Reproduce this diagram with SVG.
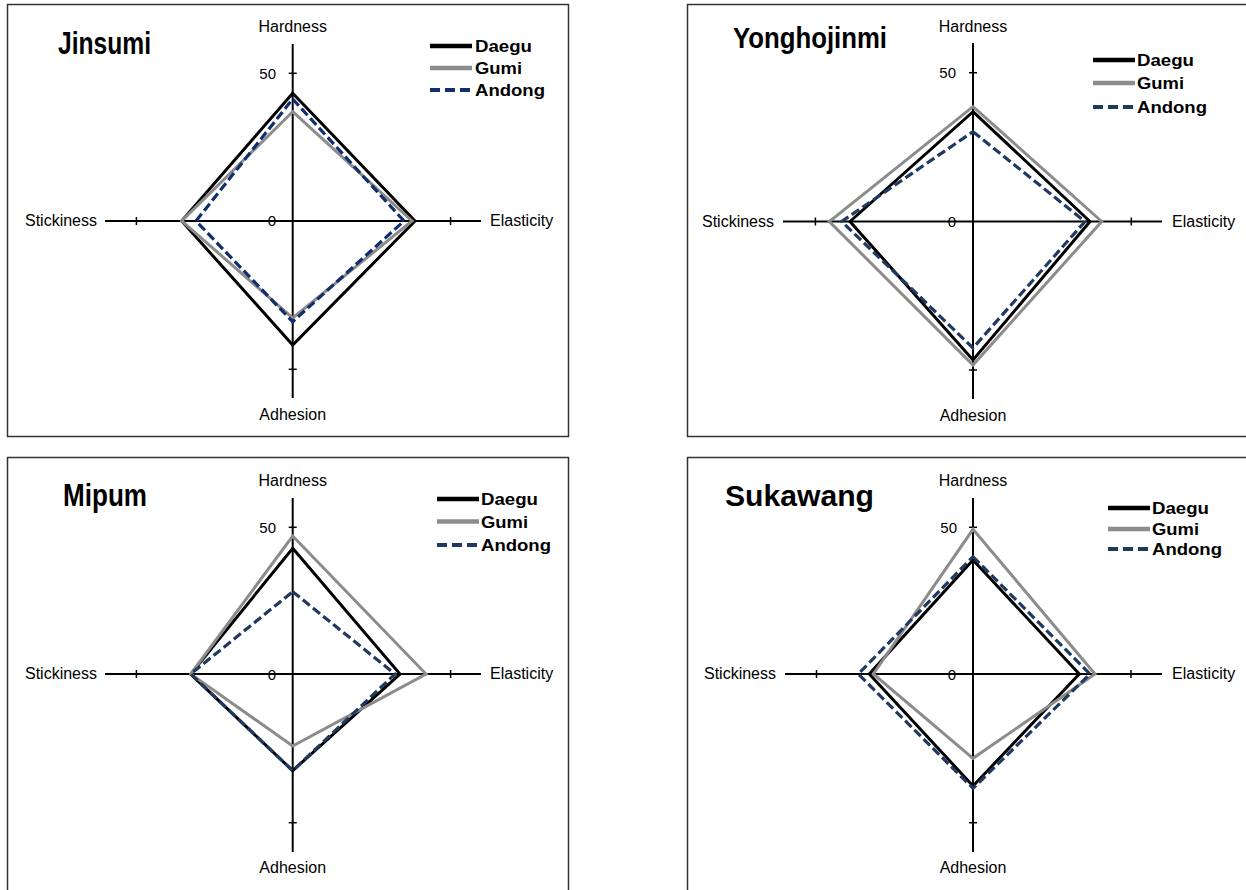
<svg xmlns="http://www.w3.org/2000/svg" width="1246" height="890" viewBox="0 0 1246 890">
<style>
.frame{fill:#fff;stroke:#333;stroke-width:1.5}
.axis{stroke:#000;stroke-width:2;fill:none}
.tick{stroke:#000;stroke-width:1.5}
.lbl{font-family:"Liberation Sans",Arial,sans-serif;font-size:16px;fill:#000}
.num{font-family:"Liberation Sans",Arial,sans-serif;font-size:15px;fill:#000}
.title{font-family:"Liberation Sans",Arial,sans-serif;font-weight:bold;fill:#000}
.leg{font-family:"Liberation Sans",Arial,sans-serif;font-size:17px;font-weight:bold;fill:#000}
.daegu{fill:none;stroke:#000;stroke-width:3;stroke-linejoin:miter}
.gumi{fill:none;stroke:#8c8c8c;stroke-width:3;stroke-linejoin:miter}
.andong{fill:none;stroke:#1f3a60;stroke-width:3.2;stroke-dasharray:9,4}
.andong1{stroke:#102f6c}
.legline{stroke-width:4.5}
.legdash{stroke-width:4;stroke-dasharray:10,5}
</style>
<rect width="1246" height="890" fill="#fff"/>

<g id="panel-jinsumi">
<rect class="frame" x="7.5" y="4.5" width="561" height="432"/>
<text class="title" x="58" y="54" font-size="31" textLength="93" lengthAdjust="spacingAndGlyphs">Jinsumi</text>
<line class="axis" x1="292.7" y1="44" x2="292.7" y2="398"/>
<line class="axis" x1="105" y1="221" x2="481" y2="221"/>
<line class="tick" x1="288.7" y1="73.3" x2="296.7" y2="73.3"/>
<line class="tick" x1="288.7" y1="369.3" x2="296.7" y2="369.3"/>
<line class="tick" x1="136.4" y1="217" x2="136.4" y2="225"/>
<line class="tick" x1="450.6" y1="217" x2="450.6" y2="225"/>
<text class="lbl" x="292.7" y="32" text-anchor="middle">Hardness</text>
<text class="lbl" x="292.7" y="420" text-anchor="middle">Adhesion</text>
<text class="lbl" x="97" y="226" text-anchor="end">Stickiness</text>
<text class="lbl" x="490" y="226">Elasticity</text>
<text class="num" x="276" y="79" text-anchor="end">50</text>
<text class="num" x="272" y="226" text-anchor="middle">0</text>
<polygon class="daegu" points="292.7,93.3 415,221 292.7,345 181.7,221"/>
<polygon class="gumi" points="292.7,111.7 412,221 292.7,318 181.7,221"/>
<polygon class="andong andong1" points="292.7,99 404,221 292.7,321.7 196,221"/>
<line class="daegu legline" x1="430" y1="46" x2="472" y2="46"/>
<line class="gumi legline" x1="430" y1="68" x2="472" y2="68"/>
<line class="andong andong1 legdash" x1="430" y1="90" x2="472" y2="90"/>
<text class="leg" x="475" y="52" textLength="57" lengthAdjust="spacingAndGlyphs">Daegu</text>
<text class="leg" x="475" y="74" textLength="47" lengthAdjust="spacingAndGlyphs">Gumi</text>
<text class="leg" x="475" y="96" textLength="70" lengthAdjust="spacingAndGlyphs">Andong</text>
</g>

<g id="panel-yonghojinmi">
<rect class="frame" x="687.5" y="4.5" width="570" height="432"/>
<text class="title" x="733" y="47.5" font-size="30" textLength="154" lengthAdjust="spacingAndGlyphs">Yonghojinmi</text>
<line class="axis" x1="973" y1="43" x2="973" y2="399"/>
<line class="axis" x1="783" y1="221.5" x2="1162" y2="221.5"/>
<line class="tick" x1="969" y1="72.7" x2="977" y2="72.7"/>
<line class="tick" x1="969" y1="370" x2="977" y2="370"/>
<line class="tick" x1="815.4" y1="217.5" x2="815.4" y2="225.5"/>
<line class="tick" x1="1131.3" y1="217.5" x2="1131.3" y2="225.5"/>
<text class="lbl" x="973" y="32" text-anchor="middle">Hardness</text>
<text class="lbl" x="973" y="421" text-anchor="middle">Adhesion</text>
<text class="lbl" x="774" y="227" text-anchor="end">Stickiness</text>
<text class="lbl" x="1172" y="227">Elasticity</text>
<text class="num" x="956" y="78" text-anchor="end">50</text>
<text class="num" x="952" y="227" text-anchor="middle">0</text>
<polygon class="daegu" points="973,111.7 1090,221.5 973,360 850,221.5"/>
<polygon class="gumi" points="973,106.7 1101.7,221.5 973,365 829.3,221.5"/>
<polygon class="andong" points="973,131.7 1085,221.5 973,348 841.7,221.5"/>
<line class="daegu legline" x1="1093" y1="60" x2="1135" y2="60"/>
<line class="gumi legline" x1="1093" y1="83" x2="1135" y2="83"/>
<line class="andong legdash" x1="1093" y1="107" x2="1135" y2="107"/>
<text class="leg" x="1137" y="66" textLength="57" lengthAdjust="spacingAndGlyphs">Daegu</text>
<text class="leg" x="1137" y="89" textLength="47" lengthAdjust="spacingAndGlyphs">Gumi</text>
<text class="leg" x="1137" y="113" textLength="70" lengthAdjust="spacingAndGlyphs">Andong</text>
</g>

<g id="panel-mipum">
<rect class="frame" x="7.5" y="457.5" width="561" height="440"/>
<text class="title" x="63" y="506" font-size="31" textLength="84" lengthAdjust="spacingAndGlyphs">Mipum</text>
<line class="axis" x1="292.7" y1="498" x2="292.7" y2="852"/>
<line class="axis" x1="105" y1="674" x2="481" y2="674"/>
<line class="tick" x1="288.7" y1="527.3" x2="296.7" y2="527.3"/>
<line class="tick" x1="288.7" y1="822.7" x2="296.7" y2="822.7"/>
<line class="tick" x1="136.4" y1="670" x2="136.4" y2="678"/>
<line class="tick" x1="450.6" y1="670" x2="450.6" y2="678"/>
<text class="lbl" x="292.7" y="486" text-anchor="middle">Hardness</text>
<text class="lbl" x="292.7" y="873" text-anchor="middle">Adhesion</text>
<text class="lbl" x="97" y="679" text-anchor="end">Stickiness</text>
<text class="lbl" x="490" y="679">Elasticity</text>
<text class="num" x="276" y="533" text-anchor="end">50</text>
<text class="num" x="272" y="680" text-anchor="middle">0</text>
<polygon class="daegu" points="292.7,548.3 400,674 292.7,770.7 190.7,674"/>
<polygon class="gumi" points="292.7,536 426,674 292.7,746 190.7,674"/>
<polygon class="andong" points="292.7,591.7 395,674 292.7,770.7 190.7,674"/>
<line class="daegu legline" x1="437" y1="499" x2="479" y2="499"/>
<line class="gumi legline" x1="437" y1="521.5" x2="479" y2="521.5"/>
<line class="andong legdash" x1="437" y1="545" x2="479" y2="545"/>
<text class="leg" x="481" y="505" textLength="57" lengthAdjust="spacingAndGlyphs">Daegu</text>
<text class="leg" x="481" y="527.5" textLength="47" lengthAdjust="spacingAndGlyphs">Gumi</text>
<text class="leg" x="481" y="551" textLength="70" lengthAdjust="spacingAndGlyphs">Andong</text>
</g>

<g id="panel-sukawang">
<rect class="frame" x="687.5" y="457.5" width="570" height="440"/>
<text class="title" x="725" y="506" font-size="29" textLength="149" lengthAdjust="spacingAndGlyphs">Sukawang</text>
<line class="axis" x1="973" y1="498" x2="973" y2="852"/>
<line class="axis" x1="785" y1="674" x2="1162" y2="674"/>
<line class="tick" x1="969" y1="527.3" x2="977" y2="527.3"/>
<line class="tick" x1="969" y1="822.7" x2="977" y2="822.7"/>
<line class="tick" x1="816.5" y1="670" x2="816.5" y2="678"/>
<line class="tick" x1="1131" y1="670" x2="1131" y2="678"/>
<text class="lbl" x="973" y="486" text-anchor="middle">Hardness</text>
<text class="lbl" x="973" y="873" text-anchor="middle">Adhesion</text>
<text class="lbl" x="776" y="679" text-anchor="end">Stickiness</text>
<text class="lbl" x="1172" y="679">Elasticity</text>
<text class="num" x="957" y="533" text-anchor="end">50</text>
<text class="num" x="952" y="680" text-anchor="middle">0</text>
<polygon class="daegu" points="973,560 1079.3,674 973,786 869.3,674"/>
<polygon class="gumi" points="973,529.3 1095,674 973,758.3 873.3,674"/>
<polygon class="andong" points="973,556.7 1090,674 973,788.3 858.3,674"/>
<line class="daegu legline" x1="1108" y1="508" x2="1150" y2="508"/>
<line class="gumi legline" x1="1108" y1="529" x2="1150" y2="529"/>
<line class="andong legdash" x1="1108" y1="549" x2="1150" y2="549"/>
<text class="leg" x="1152" y="514" textLength="57" lengthAdjust="spacingAndGlyphs">Daegu</text>
<text class="leg" x="1152" y="535" textLength="47" lengthAdjust="spacingAndGlyphs">Gumi</text>
<text class="leg" x="1152" y="555" textLength="70" lengthAdjust="spacingAndGlyphs">Andong</text>
</g>
</svg>
